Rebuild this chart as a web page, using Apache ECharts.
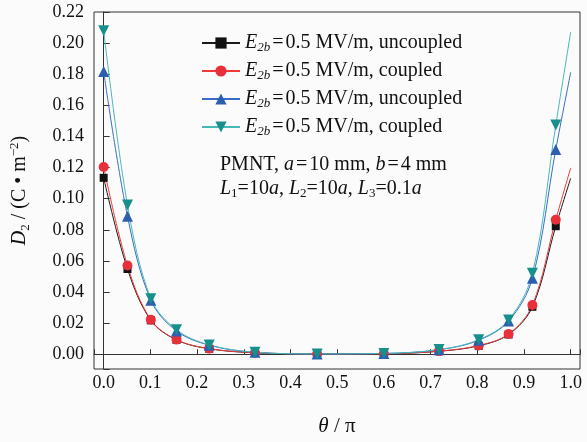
<!DOCTYPE html>
<html><head><meta charset="utf-8">
<script src="https://cdn.jsdelivr.net/npm/echarts@6/dist/echarts.min.js"></script>
<style>html,body{margin:0;padding:0;background:#fbfbfb;}#c{width:587px;height:442px;}</style>
</head><body><div id="c"></div>
<script>
var theta = [0, 0.051, 0.101, 0.156, 0.226, 0.324, 0.457, 0.600, 0.718, 0.803, 0.867, 0.918, 0.968, 1.0];
var uncoupledA = [0.1134, 0.0548, 0.0218, 0.0092, 0.0035, 0.0009, 0.0002, 0.0003, 0.0019, 0.0054, 0.0127, 0.0305, 0.0823, 0.1132];
var coupledA   = [0.1204, 0.0570, 0.0222, 0.0094, 0.0036, 0.0010, 0.0002, 0.0003, 0.0020, 0.0056, 0.0130, 0.0316, 0.0865, 0.1198];
var uncoupledB = [0.1818, 0.0887, 0.0347, 0.0150, 0.0058, 0.0012, 0.0002, 0.0005, 0.0029, 0.0090, 0.0213, 0.0489, 0.1316, 0.1812];
var coupledB   = [0.2080, 0.0960, 0.0357, 0.0157, 0.0060, 0.0013, 0.0002, 0.0005, 0.0030, 0.0093, 0.0220, 0.0520, 0.1473, 0.2072];
var legendLabels = {
  s1: '0.5 MV/m, uncoupled',
  s2: '0.5 MV/m, coupled',
  s3: '0.5 MV/m, uncoupled',
  s4: '0.5 MV/m, coupled'
};
var FONT = '"Liberation Serif", "Times New Roman", serif';
function pts(ys) {
  return theta.map(function (t, i) {
    var item = { value: [t, ys[i]] };
    if (i === theta.length - 1) item.symbol = 'none';
    return item;
  });
}
function mk(name, ys, lineColor, markColor, symbol, size) {
  return {
    name: name, type: 'line', data: pts(ys), smooth: 0.35,
    symbol: symbol, symbolSize: size, showAllSymbol: true,
    lineStyle: { color: lineColor, width: 1 },
    itemStyle: { color: markColor, borderWidth: 0 },
    emphasis: { disabled: true }
  };
}
var isTick = function (v, step) { var k = v / step; return Math.abs(k - Math.round(k)) < 1e-6; };
var eqStyle = { fontFamily: FONT, fontSize: 20, color: '#111', fill: '#111', padding: [0, 2, 0, 2], lineHeight: 22 };
var chart = echarts.init(document.getElementById('c'));
chart.setOption({
  backgroundColor: '#fbfbfb',
  animation: false,
  grid: { left: 93, right: 7, top: 12, bottom: 69, show: true, borderColor: '#333', borderWidth: 1, backgroundColor: 'transparent' },
  xAxis: {
    type: 'value', min: -0.0207, max: 1.0199, minInterval: 0.1, maxInterval: 0.1,
    axisLine: { lineStyle: { color: '#333', width: 1 } },
    axisTick: { inside: true, length: 5, lineStyle: { color: '#333' } },
    splitLine: { show: false },
    axisLabel: { margin: 5, fontFamily: FONT, fontSize: 18, color: '#111',
      formatter: function (v) { return isTick(v, 0.1) ? v.toFixed(1) : ''; } },
    name: '{i|θ} / π', nameLocation: 'middle', nameGap: 47,
    nameTextStyle: { fontFamily: FONT, fontSize: 21, color: '#111', rich: { i: { fontFamily: FONT, fontSize: 21, fontStyle: 'italic', color: '#111' } } }
  },
  yAxis: {
    type: 'value', min: -0.0095, max: 0.22, minInterval: 0.02, maxInterval: 0.02,
    axisLine: { lineStyle: { color: '#333', width: 1 } },
    axisTick: { inside: true, length: 6, lineStyle: { color: '#333' } },
    splitLine: { show: false },
    axisLabel: { margin: 10, fontFamily: FONT, fontSize: 18, color: '#111',
      formatter: function (v) { return isTick(v, 0.02) && v > -0.001 ? Math.abs(v).toFixed(2) : ''; } },
    name: '{i|D}{sub|2} / (C • m{sup|−2})', nameLocation: 'middle', nameGap: 62, nameRotate: 90,
    nameTextStyle: { fontFamily: FONT, fontSize: 20, color: '#111',
      rich: {
        i: { fontFamily: FONT, fontSize: 20, fontStyle: 'italic', color: '#111' },
        sub: { fontFamily: FONT, fontSize: 13, color: '#111', verticalAlign: 'bottom', lineHeight: 24 },
        sup: { fontFamily: FONT, fontSize: 13, color: '#111', verticalAlign: 'top', lineHeight: 24 }
      } }
  },
  legend: {
    orient: 'vertical', left: 201, top: 32, padding: 0, itemGap: 6,
    itemWidth: 38, itemHeight: 14,
    data: ['s1', 's2', 's3', 's4'],
    formatter: function (n) { return '{e|E}{s|2b}{q|=}{t|' + legendLabels[n] + '}'; },
    textStyle: { fontFamily: FONT, fontSize: 20, color: '#111', lineHeight: 22,
      rich: {
        e: { fontFamily: FONT, fontSize: 20, fontStyle: 'italic', color: '#111', lineHeight: 22 },
        s: { fontFamily: FONT, fontSize: 13, fontStyle: 'italic', color: '#111', verticalAlign: 'bottom', lineHeight: 22 },
        q: eqStyle,
        t: { fontFamily: FONT, fontSize: 20, color: '#111', lineHeight: 22 }
      } }
  },
  graphic: [
    { type: 'text', left: 220, top: 155, silent: true,
      style: { text: 'PMNT, {i|a}{q|=}10 mm, {i|b}{q|=}4 mm', fontFamily: FONT, fontSize: 20, fill: '#111',
        rich: { i: { fontFamily: FONT, fontSize: 20, fontStyle: 'italic', fill: '#111' }, q: eqStyle } } },
    { type: 'text', left: 220, top: 179, silent: true,
      style: { text: '{i|L}{s|1}{q|=}10{i|a}, {i|L}{s|2}{q|=}10{i|a}, {i|L}{s|3}{q|=}0.1{i|a}', fontFamily: FONT, fontSize: 20, fill: '#111',
        rich: { i: { fontFamily: FONT, fontSize: 20, fontStyle: 'italic', fill: '#111', lineHeight: 22 },
                s: { fontFamily: FONT, fontSize: 13, fill: '#111', verticalAlign: 'bottom', lineHeight: 22 },
                q: { fontFamily: FONT, fontSize: 20, fill: '#111', padding: [0, 0, 0, 0], lineHeight: 22 } } } }
  ],
  series: [
    mk('s1', uncoupledA, '#1a1a1a', '#111111', 'rect', 8),
    mk('s2', coupledA, '#f03a3a', '#e8303a', 'circle', 10),
    mk('s3', uncoupledB, '#3a6cc8', '#2c5fb0', 'triangle', 11),
    mk('s4', coupledB, '#48bab5', '#17908c', 'path://M0,0 L10,0 L5,9 Z', 11)
  ]
});
</script>
</body></html>
